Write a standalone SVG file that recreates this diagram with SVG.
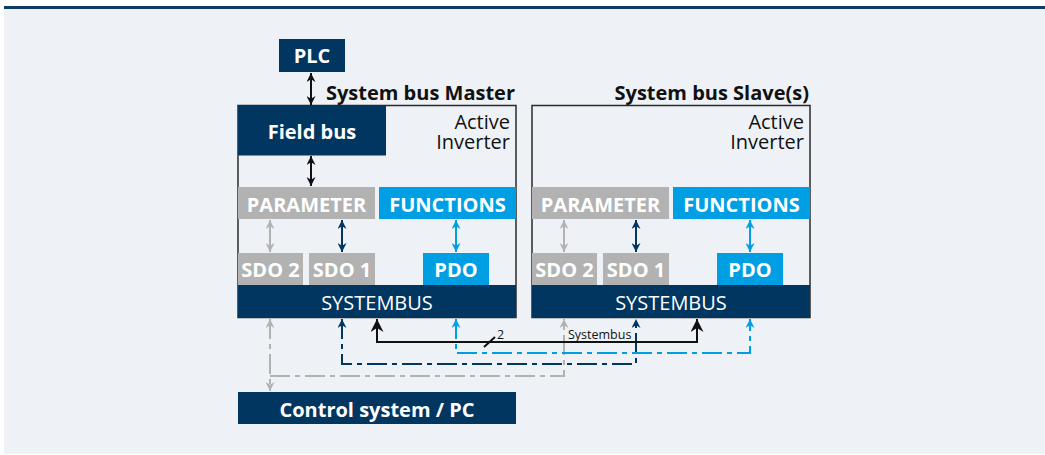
<svg xmlns="http://www.w3.org/2000/svg" width="1045" height="455" viewBox="0 0 1045 455">
  <style>
    .t { font-family: "Open Sans", "Noto Sans", sans-serif; }
    .wb { fill: #ffffff; font-weight: bold; font-size: 20px; text-anchor: middle; }
    .wr { fill: #ffffff; font-size: 20px; text-anchor: middle; }
    .hd { fill: #111111; font-weight: bold; font-size: 20px; text-anchor: end; }
    .ai { fill: #111111; font-size: 20px; text-anchor: end; }
    .dk { fill: #00365f; }
    .gr { fill: #b2b2b2; }
    .lb { fill: #009fe3; }
    .frame { fill: none; stroke: #2b2b2b; stroke-width: 1.5; }
    .c { fill: none; stroke-width: 2; }
    .dd { stroke-dasharray: 20 5 5 5; }
  </style>
  <defs>
    <marker id="aK" viewBox="0 0 10 10" refX="10" refY="5" markerUnits="userSpaceOnUse" markerWidth="10" markerHeight="9" orient="auto-start-reverse">
      <path d="M0,0 L10,5 L0,10 L3,5 z" fill="#111111"/>
    </marker>
    <marker id="aG" viewBox="0 0 10 10" refX="10" refY="5" markerUnits="userSpaceOnUse" markerWidth="10" markerHeight="9" orient="auto-start-reverse">
      <path d="M0,0 L10,5 L0,10 L3,5 z" fill="#b2b2b2"/>
    </marker>
    <marker id="aD" viewBox="0 0 10 10" refX="10" refY="5" markerUnits="userSpaceOnUse" markerWidth="10" markerHeight="9" orient="auto-start-reverse">
      <path d="M0,0 L10,5 L0,10 L3,5 z" fill="#00365f"/>
    </marker>
    <marker id="aL" viewBox="0 0 10 10" refX="10" refY="5" markerUnits="userSpaceOnUse" markerWidth="10" markerHeight="9" orient="auto-start-reverse">
      <path d="M0,0 L10,5 L0,10 L3,5 z" fill="#009fe3"/>
    </marker>
    <marker id="aBig" viewBox="0 0 10 10" refX="10" refY="5" markerUnits="userSpaceOnUse" markerWidth="15" markerHeight="13" orient="auto-start-reverse">
      <path d="M0,0 L10,5 L0,10 L3,5 z" fill="#111111"/>
    </marker>
  </defs>

  <rect x="4" y="6" width="1041" height="448" fill="#eef2f6"/>
  <rect x="4" y="6" width="1041" height="3" fill="#0d3b64"/>

  <g id="plc">
    <rect x="279" y="39" width="66" height="33" class="dk"/>
    <text x="312" y="63" class="t wb">PLC</text>
  </g>

  <g id="master">
    <text x="515" y="100" class="t hd">System bus Master</text>
    <rect x="238" y="105.5" width="278" height="212" class="frame"/>
    <text class="t ai"><tspan x="510" y="129">Active</tspan><tspan x="510" y="149">Inverter</tspan></text>
  </g>
  <g id="m-fieldbus">
    <rect x="238" y="105.5" width="148" height="50" class="dk"/>
    <text x="312" y="139" class="t wb">Field bus</text>
  </g>
  <g id="m-parameter">
    <rect x="238" y="187" width="137" height="32" class="gr"/>
    <text x="306.5" y="212" class="t wb">PARAMETER</text>
  </g>
  <g id="m-functions">
    <rect x="379" y="187" width="137" height="32" class="lb"/>
    <text x="447.5" y="212" class="t wb">FUNCTIONS</text>
  </g>
  <g id="m-sdo2">
    <rect x="238" y="253" width="65" height="32" class="gr"/>
    <text x="270.5" y="277" class="t wb">SDO 2</text>
  </g>
  <g id="m-sdo1">
    <rect x="309" y="253" width="66" height="32" class="gr"/>
    <text x="342" y="277" class="t wb">SDO 1</text>
  </g>
  <g id="m-pdo">
    <rect x="423" y="253" width="66" height="32" class="lb"/>
    <text x="456" y="277" class="t wb">PDO</text>
  </g>
  <g id="m-systembus">
    <rect x="238" y="285" width="278" height="32.5" class="dk"/>
    <text x="377" y="310" class="t wr">SYSTEMBUS</text>
  </g>

  <g id="slave">
    <text x="809" y="100" class="t hd">System bus Slave(s)</text>
    <rect x="532" y="105.5" width="278" height="212" class="frame"/>
    <text class="t ai"><tspan x="804" y="129">Active</tspan><tspan x="804" y="149">Inverter</tspan></text>
  </g>
  <g id="s-parameter">
    <rect x="532" y="187" width="137" height="32" class="gr"/>
    <text x="600.5" y="212" class="t wb">PARAMETER</text>
  </g>
  <g id="s-functions">
    <rect x="673" y="187" width="137" height="32" class="lb"/>
    <text x="741.5" y="212" class="t wb">FUNCTIONS</text>
  </g>
  <g id="s-sdo2">
    <rect x="532" y="253" width="65" height="32" class="gr"/>
    <text x="564.5" y="277" class="t wb">SDO 2</text>
  </g>
  <g id="s-sdo1">
    <rect x="603" y="253" width="66" height="32" class="gr"/>
    <text x="636" y="277" class="t wb">SDO 1</text>
  </g>
  <g id="s-pdo">
    <rect x="717" y="253" width="66" height="32" class="lb"/>
    <text x="750" y="277" class="t wb">PDO</text>
  </g>
  <g id="s-systembus">
    <rect x="532" y="285" width="278" height="32.5" class="dk"/>
    <text x="671" y="310" class="t wr">SYSTEMBUS</text>
  </g>

  <g id="control">
    <rect x="238" y="392" width="278" height="32" class="dk"/>
    <text x="377" y="417" class="t wb">Control system / PC</text>
  </g>

  <g id="connectors">
    <path d="M311,73 V105" class="c" stroke="#111111" marker-start="url(#aK)" marker-end="url(#aK)"/>
    <path d="M311,156 V186" class="c" stroke="#111111" marker-start="url(#aK)" marker-end="url(#aK)"/>

    <path d="M270,220 V252" class="c" stroke="#b2b2b2" marker-start="url(#aG)" marker-end="url(#aG)"/>
    <path d="M342,220 V252" class="c" stroke="#00365f" marker-start="url(#aD)" marker-end="url(#aD)"/>
    <path d="M456,220 V252" class="c" stroke="#009fe3" marker-start="url(#aL)" marker-end="url(#aL)"/>
    <path d="M564,220 V252" class="c" stroke="#b2b2b2" marker-start="url(#aG)" marker-end="url(#aG)"/>
    <path d="M636,220 V252" class="c" stroke="#00365f" marker-start="url(#aD)" marker-end="url(#aD)"/>
    <path d="M750,220 V252" class="c" stroke="#009fe3" marker-start="url(#aL)" marker-end="url(#aL)"/>

    <path d="M270,319 V391" class="c dd" stroke="#b2b2b2" marker-start="url(#aG)" marker-end="url(#aG)"/>
    <path d="M270,376 H564 V319" class="c dd" stroke="#b2b2b2" marker-end="url(#aG)"/>
    <path d="M342,319 V364 H636 V319" class="c dd" stroke="#00365f" marker-start="url(#aD)" marker-end="url(#aD)"/>
    <path d="M456,319 V353 H750 V319" class="c dd" stroke="#009fe3" marker-start="url(#aL)" marker-end="url(#aL)"/>
    <path d="M377,319 V342 H697 V319" class="c" stroke="#111111" marker-start="url(#aBig)" marker-end="url(#aBig)"/>
    <path d="M484,347 L495,337" fill="none" stroke="#111111" stroke-width="2"/>
    <text x="497" y="339" class="t" font-size="12.5" fill="#111111">2</text>
    <text x="568" y="339" class="t" font-size="12.5" fill="#111111">Systembus</text>
  </g>
</svg>
